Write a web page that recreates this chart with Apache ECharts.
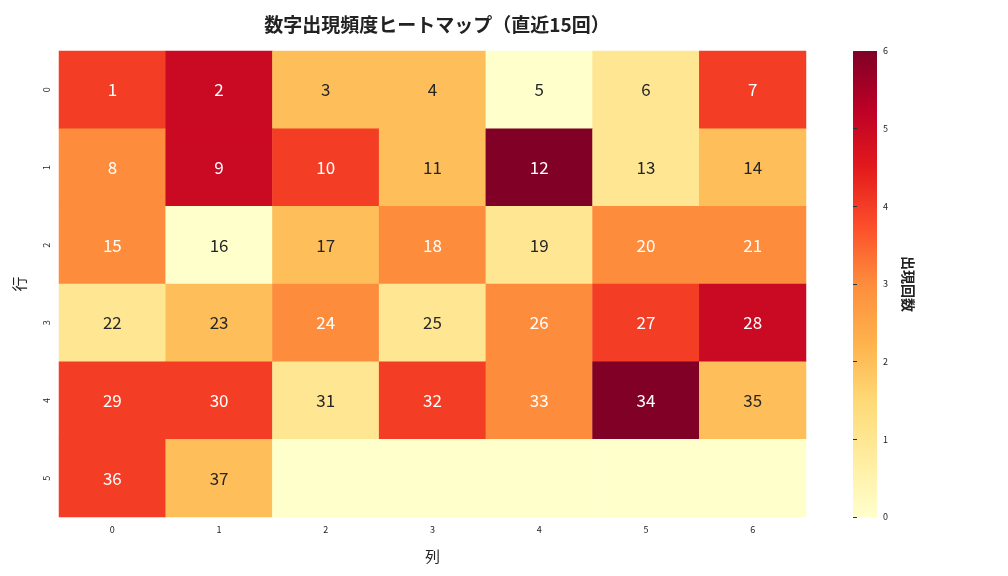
<!DOCTYPE html>
<html>
<head>
<meta charset="utf-8">
<script src="https://cdn.jsdelivr.net/npm/echarts@6/dist/echarts.min.js"></script>
<style>
  html, body { margin: 0; padding: 0; background: #fff; }
  #chart { width: 1008px; height: 576px; }
</style>
</head>
<body>
<div id="chart"></div>
<script>
// Columns and rows of the grid
const cols = ['0', '1', '2', '3', '4', '5', '6'];
const rows = ['0', '1', '2', '3', '4', '5'];

// Appearance counts per cell (row by row); numbers 1..37, remaining cells empty
const counts = [
  [4, 5, 2, 2, 0, 1, 4],
  [3, 5, 4, 2, 6, 1, 2],
  [3, 0, 2, 3, 1, 3, 3],
  [1, 2, 3, 1, 3, 4, 5],
  [4, 4, 1, 4, 3, 6, 2],
  [4, 2, 0, 0, 0, 0, 0]
];
const maxNumber = 37;

const ylOrRd = ['#ffffcc', '#ffeda0', '#fed976', '#feb24c', '#fd8d3c', '#fc4e2a', '#e31a1c', '#bd0026', '#800026'];
const font = '"Noto Sans CJK JP", "Noto Sans", sans-serif';

const data = [];
counts.forEach(function (row, r) {
  row.forEach(function (v, c) {
    const num = r * cols.length + c + 1;
    data.push({
      value: [c, r, v, num <= maxNumber ? num : 0],
      label: { color: v >= 3 ? '#ffffff' : '#262626' }
    });
  });
});

// colour bar gradient (top = max)
const stops = ylOrRd.map(function (c, i) {
  return { offset: 1 - i / (ylOrRd.length - 1), color: c };
});

const chart = echarts.init(document.getElementById('chart'), null, {renderer: 'canvas'});
chart.setOption({
  animation: false,
  textStyle: { fontFamily: font },
  title: {
    text: '数字出現頻度ヒートマップ（直近15回）',
    left: 432, top: 10, textAlign: 'center',
    textStyle: { fontSize: 19, fontWeight: 'bold', color: '#222', fontFamily: font }
  },
  grid: [
    { left: 59, top: 51, width: 747, height: 466 },
    { left: 853, top: 51, width: 24, height: 466 }
  ],
  graphic: [{
    type: 'rect', left: 853, top: 51, z: -1,
    shape: { width: 24, height: 466 },
    style: { fill: new echarts.graphic.LinearGradient(0, 0, 0, 1, stops) }
  }],
  xAxis: [
    {
      type: 'category', data: cols, gridIndex: 0,
      name: '列', nameLocation: 'middle', nameGap: 32,
      nameTextStyle: { fontSize: 15, color: '#222' },
      axisLine: { show: false },
      axisTick: { length: 4, lineStyle: { color: '#333' }, alignWithLabel: true },
      axisLabel: { fontSize: 9, color: '#222' },
      splitLine: { show: false }
    },
    { type: 'value', gridIndex: 1, show: false, min: 0, max: 1 }
  ],
  yAxis: [
    {
      type: 'category', data: rows, gridIndex: 0, inverse: true,
      name: '行', nameLocation: 'middle', nameGap: 32, nameRotate: 90,
      nameTextStyle: { fontSize: 15, color: '#222' },
      axisLine: { show: false },
      axisTick: { length: 4, lineStyle: { color: '#333' }, alignWithLabel: true },
      axisLabel: { fontSize: 9, color: '#222', rotate: 90 },
      splitLine: { show: false }
    },
    {
      type: 'value', gridIndex: 1, position: 'right', min: 0, max: 6, interval: 1,
      name: '出現回数', nameLocation: 'middle', nameGap: 24, nameRotate: -90,
      nameTextStyle: { fontSize: 14, fontWeight: 'bold', color: '#222' },
      axisLine: { show: false },
      axisTick: { show: true, length: 4, lineStyle: { color: '#333' } },
      axisLabel: { fontSize: 9, color: '#222', margin: 6 },
      splitLine: { show: false }
    }
  ],
  visualMap: {
    type: 'continuous', min: 0, max: 6, seriesIndex: 0, dimension: 2,
    show: false,
    inRange: { color: ylOrRd }
  },
  series: [
    {
      type: 'heatmap', xAxisIndex: 0, yAxisIndex: 0, data: data,
      label: {
        show: true, fontSize: 17, fontFamily: font,
        formatter: function (p) { return p.value[3] ? p.value[3] : ''; }
      },
      itemStyle: { borderWidth: 0 }
    },
    { type: 'scatter', xAxisIndex: 1, yAxisIndex: 1, data: [[0.5, 0]], symbolSize: 0, silent: true }
  ]
});
</script>
</body>
</html>
